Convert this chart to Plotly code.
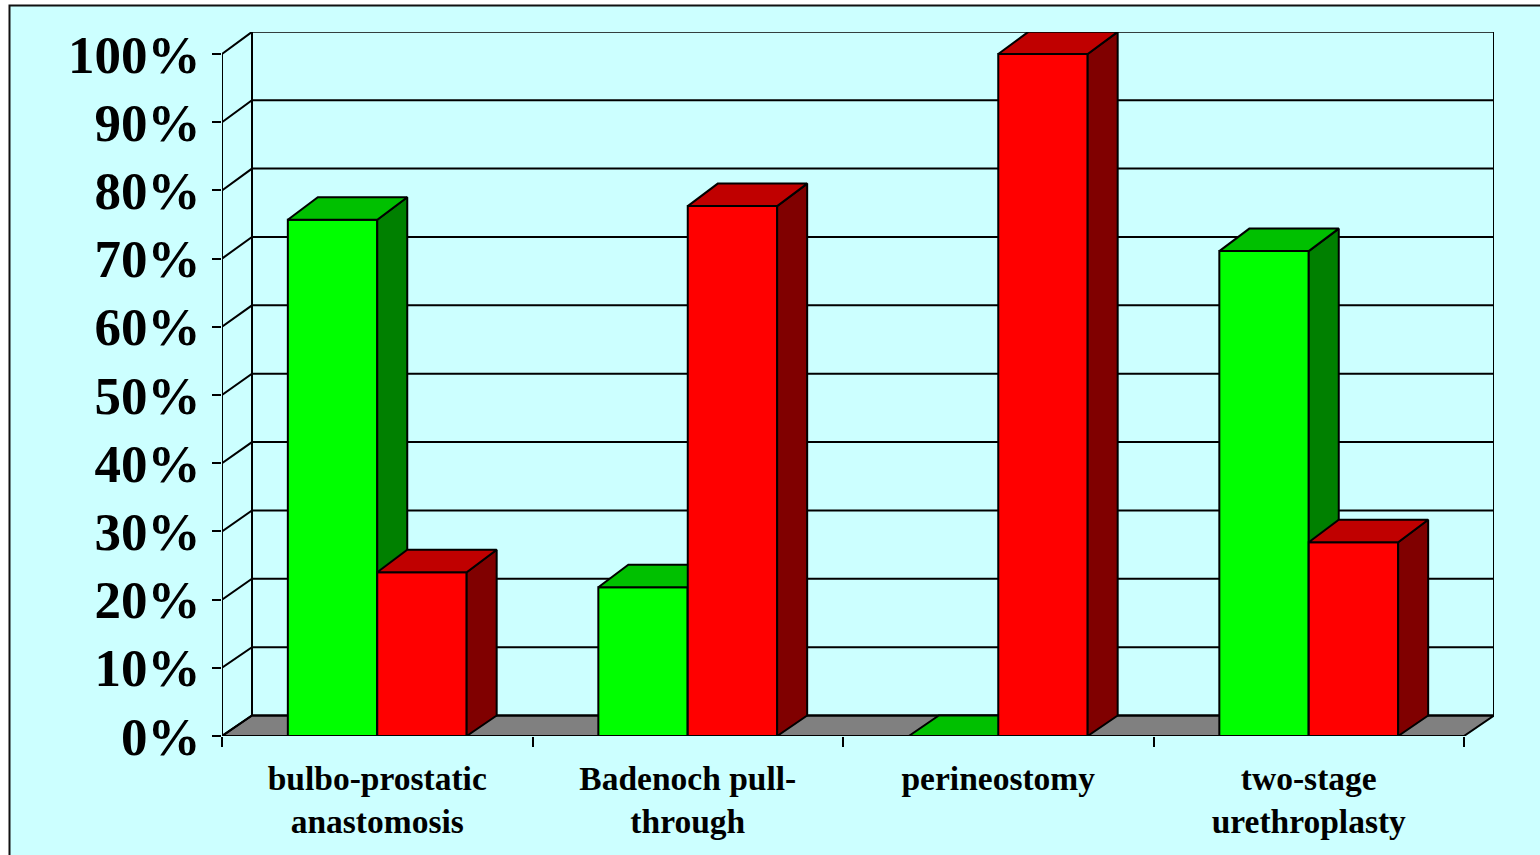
import plotly.graph_objects as go

categories = ["bulbo-prostatic<br>anastomosis", "Badenoch pull-<br>through", "perineostomy", "two-stage<br>urethroplasty"]
green_values = [75.7, 21.8, 0, 71.1]
red_values = [24, 77.7, 100, 28.4]
y_ticks = [0, 10, 20, 30, 40, 50, 60, 70, 80, 90, 100]
y_labels = ["0%", "10%", "20%", "30%", "40%", "50%", "60%", "70%", "80%", "90%", "100%"]

W, H = 1540, 855
L, R, T, B = 222, 1494, 32, 736
XMAX = 3.5 + 30 / 310.5
YMAX = 100 * 704 / 682
DX = 30 / 310.5
DY_FLOOR = 3.0
DY_BAR = 3.3
BW = 0.288
BLACK = "#000000"
LW = 2
FONT = "Liberation Serif"

fig = go.Figure()


def wall_dy(v):
    return DY_FLOOR + 0.0025 * v


def poly(xs, ys, fill, xa, ya):
    fig.add_trace(go.Scatter(x=xs, y=ys, mode="lines", fill="toself", fillcolor=fill,
                             line=dict(color=BLACK, width=LW), xaxis=xa, yaxis=ya,
                             hoverinfo="skip", showlegend=False, cliponaxis=False))


def line(xs, ys, xa="x", ya="y"):
    fig.add_trace(go.Scatter(x=xs, y=ys, mode="lines", line=dict(color=BLACK, width=LW),
                             xaxis=xa, yaxis=ya, hoverinfo="skip", showlegend=False,
                             cliponaxis=False))


# floor
poly([-0.5, 3.5, 3.5 + DX, -0.5 + DX, -0.5], [0, 0, DY_FLOOR, DY_FLOOR, 0], "#808080", "x", "y")
# walls and gridlines
for v in y_ticks:
    back = v + wall_dy(v)
    line([-0.5, -0.5 + DX, 3.5 + DX], [v, back, back])
top_back = 100 + wall_dy(100)
line([-0.5, -0.5], [0, 100])
line([-0.5 + DX, -0.5 + DX], [DY_FLOOR, top_back])
line([3.5 + DX, 3.5 + DX], [DY_FLOOR, top_back])
line([-0.5, 3.5], [0, 0])


def bars(values, offset, front, side, top, xa, ya, name):
    idx = list(range(len(values)))
    for i, v in zip(idx, values):
        x0 = i + offset
        x1 = x0 + BW
        top_y = min(v + DY_BAR, top_back) if v > 0 else DY_FLOOR
        if v > 0:
            poly([x1, x1 + DX, x1 + DX, x1, x1], [0, DY_FLOOR, top_y, v, 0], side, xa, ya)
        poly([x0, x1, x1 + DX, x0 + DX, x0], [v, v, top_y, top_y, v], top, xa, ya)
    fig.add_trace(go.Bar(x=idx, y=values, width=BW, offset=offset, name=name,
                         marker=dict(color=front, line=dict(color=BLACK, width=LW)),
                         xaxis=xa, yaxis=ya, showlegend=False, cliponaxis=False))


bars(green_values, -BW, "#00FF00", "#008000", "#00C000", "x2", "y2", "green")
bars(red_values, 0, "#FF0000", "#800000", "#C00000", "x3", "y3", "red")

hidden_x = dict(range=[-0.5, XMAX], visible=False, overlaying="x", fixedrange=True)
hidden_y = dict(range=[0, YMAX], visible=False, overlaying="y", fixedrange=True)

fig.update_layout(
    width=W, height=H,
    margin=dict(l=L, r=W - R, t=T, b=H - B, pad=0),
    paper_bgcolor="#FFFFFF", plot_bgcolor="rgba(0,0,0,0)",
    barmode="overlay", showlegend=False,
    xaxis=dict(range=[-0.5, XMAX], tickvals=list(range(len(categories))), ticktext=categories,
               ticks="", showgrid=False, zeroline=False, showline=False, fixedrange=True,
               ticklabelstandoff=19,
               tickfont=dict(family=FONT, size=33.5, color=BLACK, weight=700),
               minor=dict(tickvals=[-0.5, 0.5, 1.5, 2.5, 3.5], ticks="outside", ticklen=10,
                          tickwidth=LW, tickcolor=BLACK, showgrid=False)),
    yaxis=dict(range=[0, YMAX], tickvals=y_ticks, ticktext=y_labels, ticks="outside", ticklen=9,
               tickwidth=LW, tickcolor=BLACK, showgrid=False, zeroline=False, showline=False,
               fixedrange=True, ticklabelstandoff=1,
               tickfont=dict(family=FONT, size=53, color=BLACK, weight=700)),
    xaxis2=hidden_x, yaxis2=hidden_y, xaxis3=hidden_x, yaxis3=hidden_y,
    shapes=[dict(type="rect", xref="paper", yref="paper", layer="below",
                 x0=(9.5 - L) / (R - L), x1=(1560 - L) / (R - L),
                 y0=(B - 880) / (B - T), y1=(B - 5.5) / (B - T),
                 fillcolor="#CCFFFF", line=dict(color="#111111", width=2))],
)

fig.write_html("out.html", config=dict(displayModeBar=False),
               post_script="document.body.style.margin='0';document.body.style.overflow='hidden';")
